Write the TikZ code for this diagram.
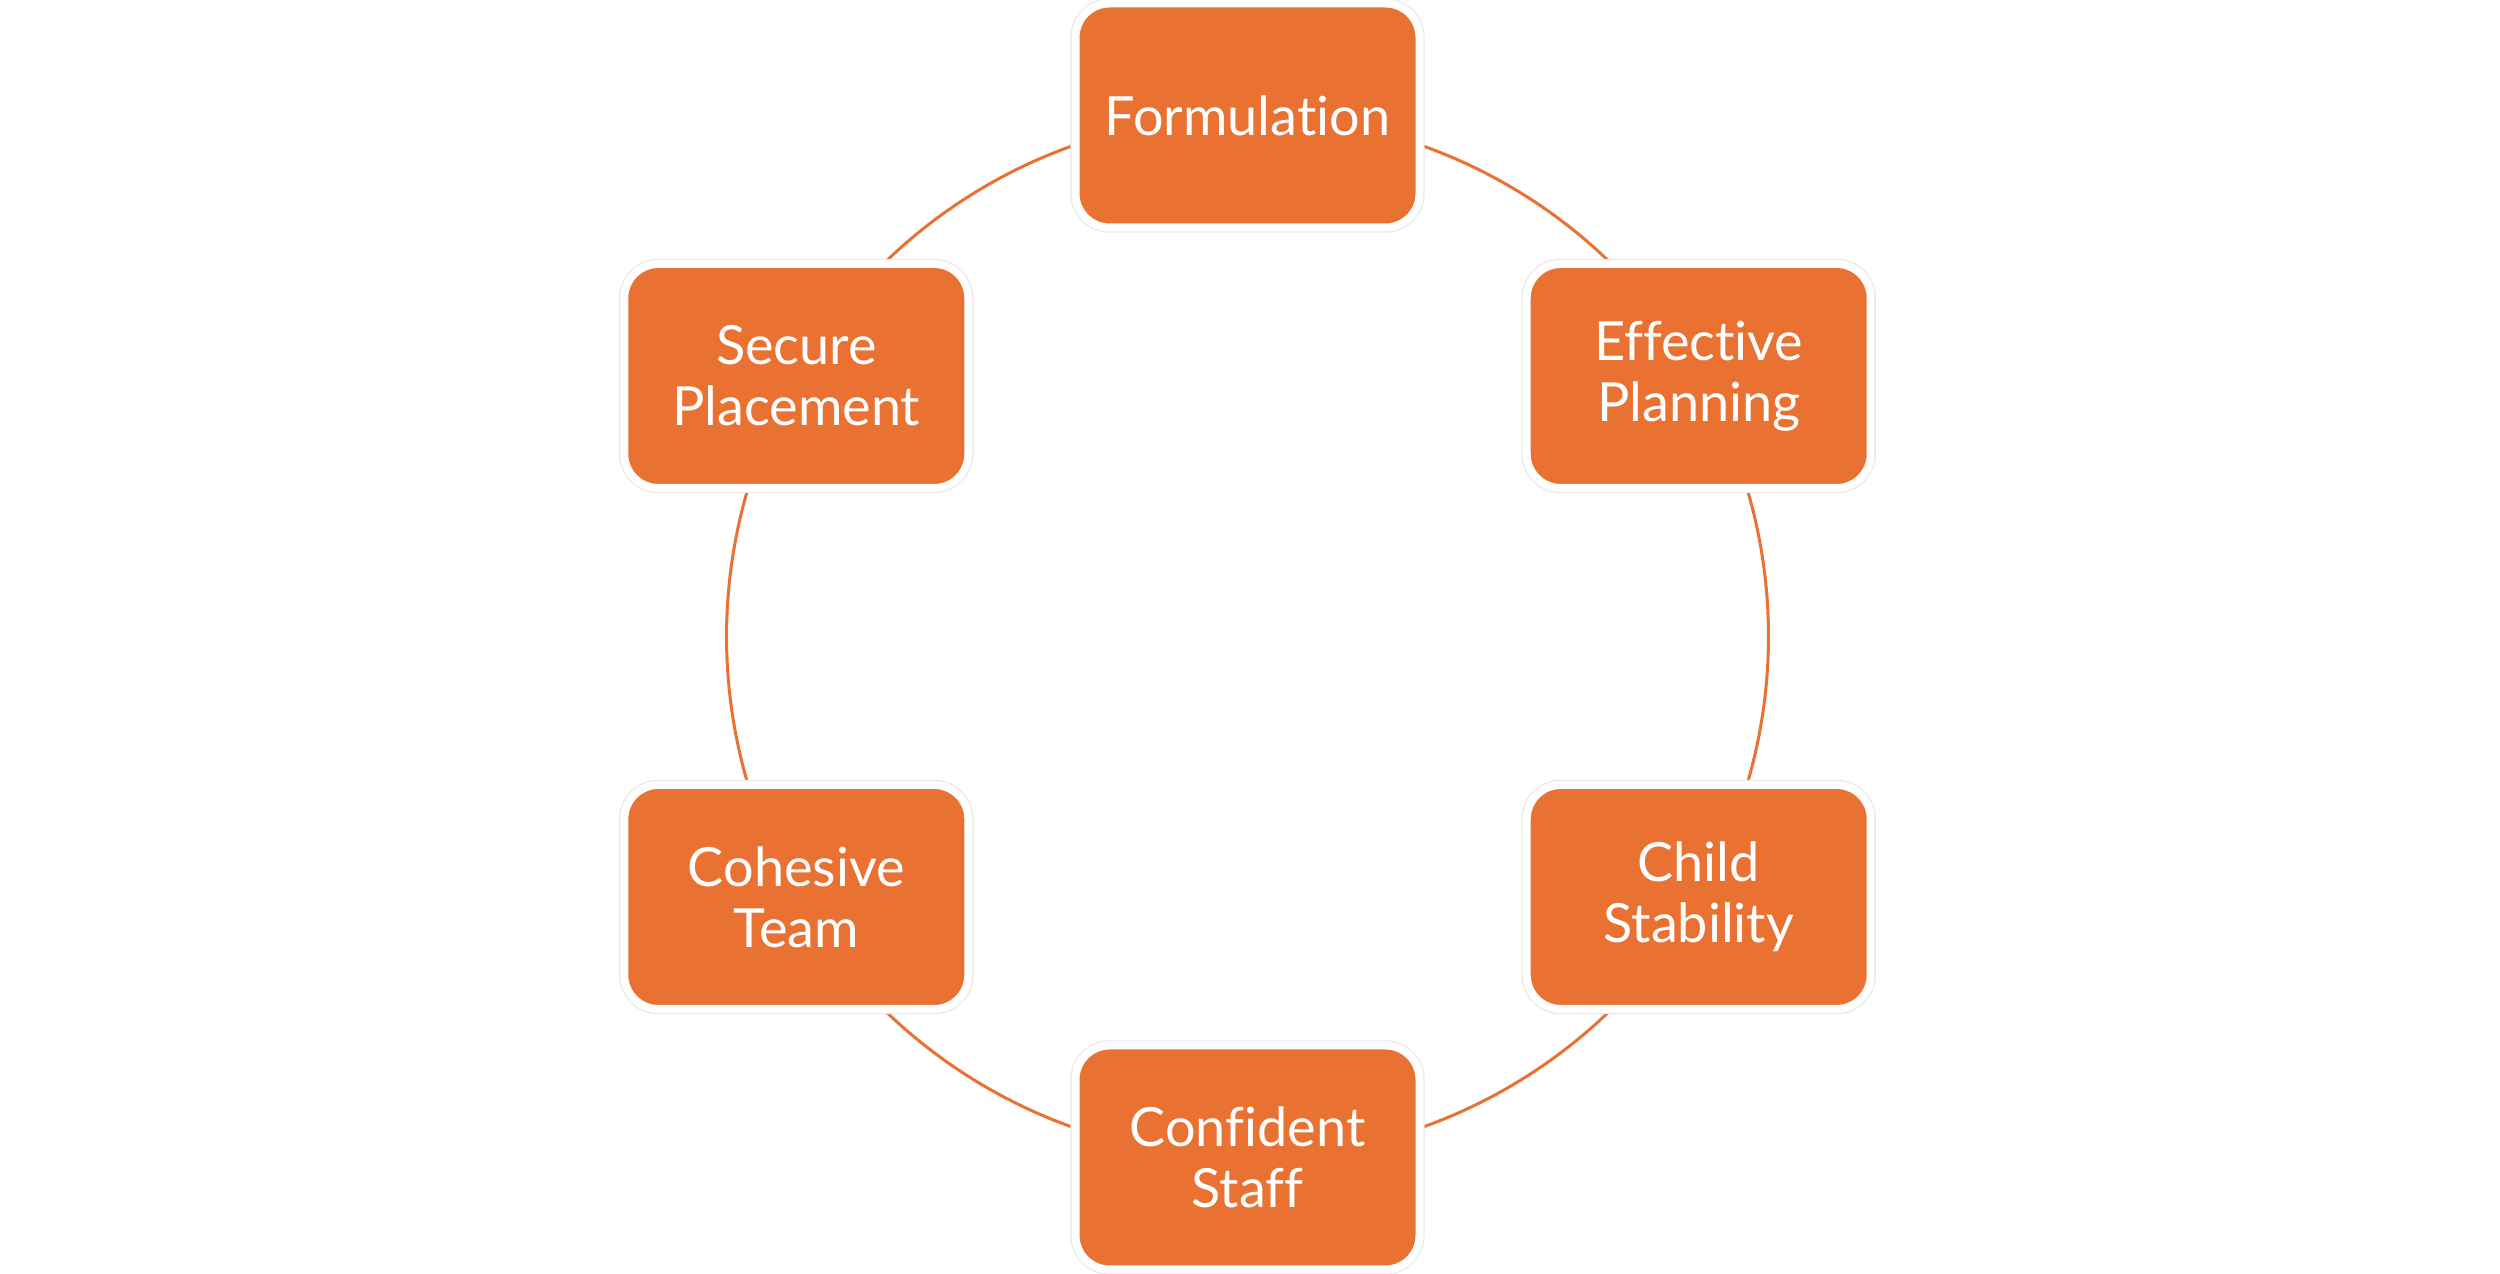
\documentclass[tikz,border=0pt]{standalone}
\usepackage{fontspec}
\setmainfont{Lato}[Ligatures=NoCommon]
\definecolor{accent}{HTML}{E97132}
\begin{document}
\begin{tikzpicture}[x=0.5pt,y=0.5pt,
  cyclebox/.style={rectangle, rounded corners=17pt, fill=accent,
    minimum width=172pt, minimum height=112pt, inner sep=0pt,
    preaction={draw=gray!18, line width=5.2pt},
    draw=white, line width=4pt,
    text=white, align=center,
    font=\fontsize{27}{30.5}\selectfont},
  arcline/.style={draw=accent, line width=1.5pt}]
\useasboundingbox[fill=white] (0,0) rectangle (2500,1274);
\coordinate (c) at (1247.5,637.5);
\def\R{521}
% arcs
\draw[arcline] (c) ++(70.6:\R) arc[start angle=70.6, end angle=45.7, radius=\R];
\draw[arcline] (c) ++(16.4:\R) arc[start angle=16.4, end angle=-16.4, radius=\R];
\draw[arcline] (c) ++(-45.7:\R) arc[start angle=-45.7, end angle=-70.6, radius=\R];
\draw[arcline] (c) ++(-109.4:\R) arc[start angle=-109.4, end angle=-134.3, radius=\R];
\draw[arcline] (c) ++(196.4:\R) arc[start angle=196.4, end angle=163.6, radius=\R];
\draw[arcline] (c) ++(134.3:\R) arc[start angle=134.3, end angle=109.4, radius=\R];
% boxes
\node[cyclebox] (form) at (1247.5,1158.5) {Formulation};
\node[cyclebox] (plan) at (1698.7,898) {Effective\\Planning};
\node[cyclebox] (child) at (1698.7,377) {Child\\Stability};
\node[cyclebox] (staff) at (1247.5,116.5) {Confident\\Staff};
\node[cyclebox] (team) at (796.3,377) {Cohesive\\Team};
\node[cyclebox] (place) at (796.3,898) {Secure\\Placement};
\end{tikzpicture}
\end{document}
